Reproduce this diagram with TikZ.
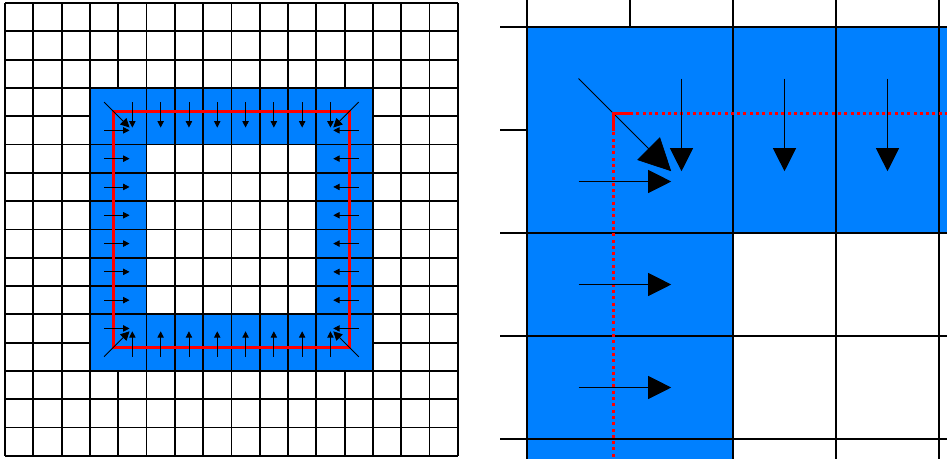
\documentclass[tikz,border=0pt]{standalone}
\usetikzlibrary{arrows.meta}
\definecolor{cellblue}{RGB}{0,128,255}
\tikzset{
  gridline/.style={line width=1.8pt, black},
  flux/.style={line width=0.8pt, -{Triangle[length=#1, width=#1]}},
  boundary/.style={line width=3pt, red},
}
% mesh with the merged ring cells; #1 head, #2 diagonal head, #3 boundary style
\newcommand{\cutmesh}[3]{%
  \foreach \k in {0,...,16} {
    \draw[gridline] (\k,0) -- (\k,16) (0,\k) -- (16,\k);
  }
  \fill[cellblue, even odd rule] (3,3) rectangle (13,13) (5,5) rectangle (11,11);
  \draw[gridline] (3,3) rectangle (13,13) (5,5) rectangle (11,11);
  \foreach \k in {5,...,11} {
    \draw[gridline] (\k,3) -- (\k,5) (\k,11) -- (\k,13) (3,\k) -- (5,\k) (11,\k) -- (13,\k);
  }
  \draw[#3] (3.84,3.84) rectangle (12.16,12.16);
  \foreach \pos in {4.5,5.5,...,11.5} {
    \draw[flux=#1] (\pos,3.5) -- (\pos,4.4);
    \draw[flux=#1] (\pos,12.5) -- (\pos,11.6);
    \draw[flux=#1] (3.5,\pos) -- (4.4,\pos);
    \draw[flux=#1] (12.5,\pos) -- (11.6,\pos);
  }
  \draw[flux=#2] (3.5,3.5) -- (4.4,4.4);
  \draw[flux=#2] (12.5,3.5) -- (11.6,4.4);
  \draw[flux=#2] (3.5,12.5) -- (4.4,11.6);
  \draw[flux=#2] (12.5,12.5) -- (11.6,11.6);
}
\begin{document}
\begin{tikzpicture}
\useasboundingbox (0,0) rectangle (947pt,-459pt);
% whole mesh
\begin{scope}[shift={(5pt,-3pt)}, x=28.3pt, y=-28.3pt]
  \cutmesh{6.3pt}{8.9pt}{boundary}
\end{scope}
% close-up of the upper left corner
\begin{scope}[shift={(218pt,282pt)}, x=103pt, y=-103pt]
  \clip (2.738,2.738) rectangle (7.078,7.194);
  \cutmesh{23pt}{32pt}{boundary, dash pattern=on 3pt off 3.3pt}
  \draw[boundary] (4.01,3.84) -- (3.84,3.84) -- (3.84,4.01);
\end{scope}
\end{tikzpicture}
\end{document}
